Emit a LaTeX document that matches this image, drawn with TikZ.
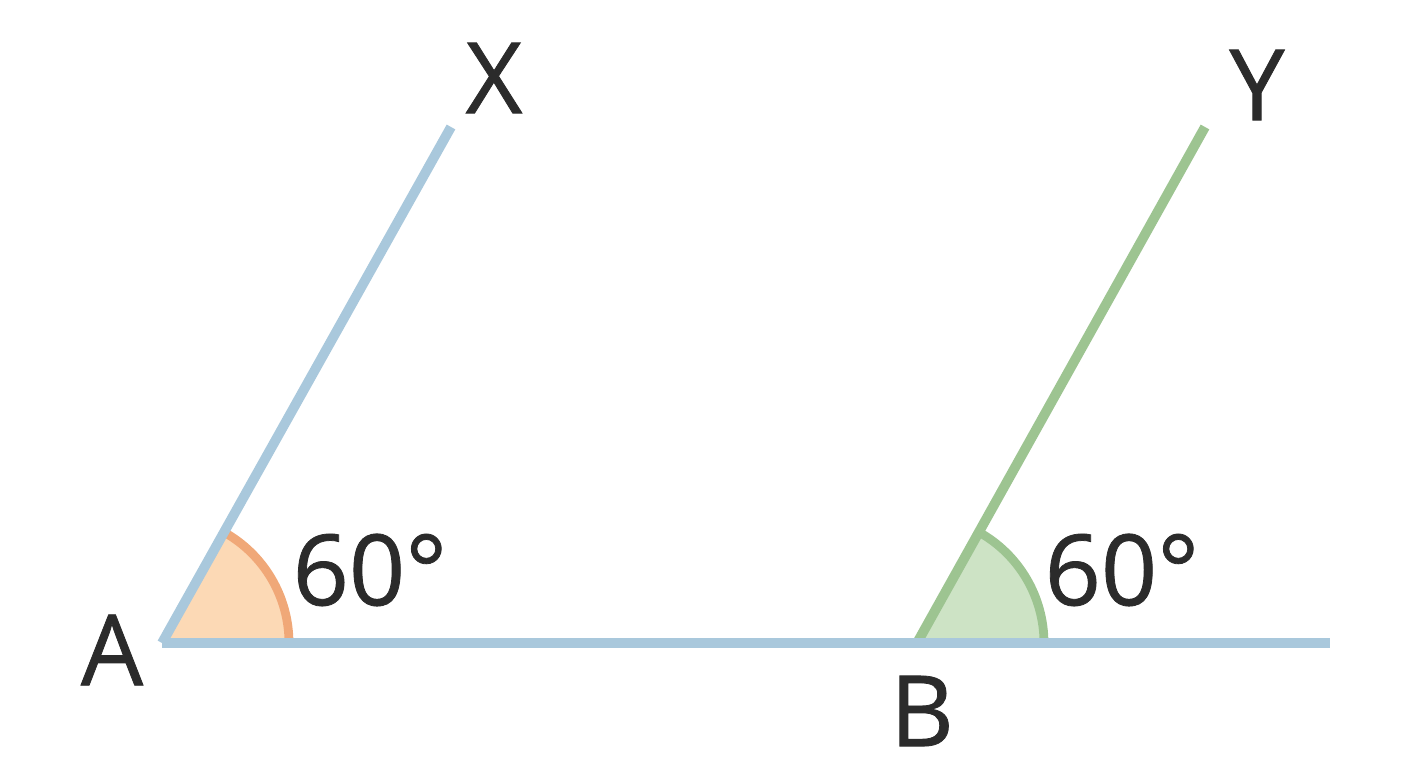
\documentclass[tikz,border=0pt]{standalone}
\usepackage{fontspec}
\setmainfont{Open Sans}
\newfontfamily\lblfont{Open Sans}[FakeBold=0.8]
\usetikzlibrary{calc}
\definecolor{rayblue}{HTML}{A9C8DC}
\definecolor{raygreen}{HTML}{9DC491}
\definecolor{fillgreen}{HTML}{CDE3C5}
\definecolor{fillorange}{HTML}{FCD9B5}
\definecolor{lineorange}{HTML}{F0A878}
\definecolor{ink}{HTML}{2B2B2B}
\tikzset{
  ray/.style={line width=2.8pt},
  lbl/.style={text=ink, inner sep=0pt, font=\lblfont\fontsize{28}{32}\selectfont}
}
\begin{document}
\begin{tikzpicture}
		\def\r{1.27}       
		\def\ang{60.75}    
		\useasboundingbox (0,0) rectangle (14.08,7.68);
		
		\coordinate (A) at (1.62,1.25);
		\coordinate (B) at (9.17,1.25);
		\coordinate (E) at (13.30,1.25);
		\coordinate (X) at (4.51,6.41);
		\coordinate (Y) at (12.05,6.41);
		
		% angle sectors
		\fill[fillorange] (A) -- ++(0:\r) arc[start angle=0, end angle=\ang, radius=\r] -- cycle;
		\draw[lineorange, line width=2.5pt] ($(A)+(0:\r)$) arc[start angle=0, end angle=\ang, radius=\r];
		\fill[fillgreen] (B) -- ++(0:\r) arc[start angle=0, end angle=\ang, radius=\r] -- cycle;
		\draw[raygreen, line width=2.5pt] ($(B)+(0:\r)$) arc[start angle=0, end angle=\ang, radius=\r];
		
		% rays
		\draw[ray, rayblue] (A) -- (X);
		\draw[ray, raygreen] (B) -- (Y);
		\draw[ray, rayblue] (A) -- (E);
		
		\node[lbl] (lX) at (4.94,6.90) {X};
		\node[lbl] (lY) at (12.57,6.83) {Y};
		\node[lbl] (lA) at (1.12,1.18) {A};
		\node[lbl] (lB) at (9.22,0.57) {B};
		\node[lbl] (angA) at (3.70,1.98) {60°};
		\node[lbl] (angB) at (11.22,1.98) {60°};
	\end{tikzpicture}
\end{document}
